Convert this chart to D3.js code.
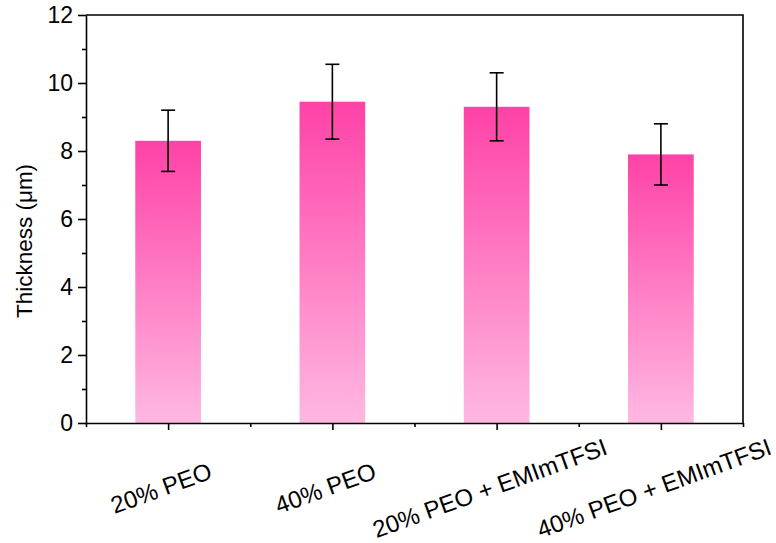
<!DOCTYPE html>
<html>
<head>
<meta charset="utf-8">
<script src="https://cdn.jsdelivr.net/npm/d3@7"></script>
<style>
  body { margin: 0; background: #fff; }
  svg { display: block; }
  text { font-family: Arial, "Liberation Sans", sans-serif; fill: #000; }
</style>
</head>
<body>
<svg id="chart" width="776" height="543"></svg>
<script>
const categories = ["20% PEO", "40% PEO", "20% PEO + EMImTFSI", "40% PEO + EMImTFSI"];
const values = [8.3, 9.45, 9.3, 7.9];
const errors = [0.9, 1.1, 1.0, 0.9];
const yTicks = [0, 2, 4, 6, 8, 10, 12];
const yMinorTicks = [1, 3, 5, 7, 9, 11];

const svg = d3.select("#chart");
const mLeft = 86, mRight = 743, mTop = 15, mBottom = 423;

const x = d3.scaleLinear().domain([0.5, 4.5]).range([mLeft, mRight]);
const y = d3.scaleLinear().domain([0, 12]).range([mBottom, mTop]);
const barW = (x(2) - x(1)) * 0.4;

const defs = svg.append("defs");
const grad = defs.append("linearGradient")
  .attr("id", "pinkGrad").attr("x1", 0).attr("y1", 0).attr("x2", 0).attr("y2", 1);
grad.append("stop").attr("offset", "0%").attr("stop-color", "#ff42a7");
grad.append("stop").attr("offset", "100%").attr("stop-color", "#ffb8e2");

// Bars
svg.append("g").selectAll("rect").data(values).join("rect")
  .attr("x", (d, i) => x(i + 1) - barW / 2)
  .attr("y", d => y(d))
  .attr("width", barW)
  .attr("height", d => y(0) - y(d))
  .attr("fill", "url(#pinkGrad)");

// Error bars
const eb = svg.append("g").attr("stroke", "#000").attr("stroke-width", 1.6);
values.forEach((v, i) => {
  const cx = x(i + 1);
  eb.append("line").attr("x1", cx).attr("x2", cx).attr("y1", y(v + errors[i])).attr("y2", y(v - errors[i]));
  eb.append("line").attr("x1", cx - 7).attr("x2", cx + 7).attr("y1", y(v + errors[i])).attr("y2", y(v + errors[i]));
  eb.append("line").attr("x1", cx - 7).attr("x2", cx + 7).attr("y1", y(v - errors[i])).attr("y2", y(v - errors[i]));
});

// Frame (top and right)
svg.append("path")
  .attr("d", `M${mLeft},${mTop}H${mRight}V${mBottom}`)
  .attr("fill", "none").attr("stroke", "#000").attr("stroke-width", 1.6);

// Y axis
const yAxis = d3.axisLeft(y).tickValues(yTicks).tickSize(8).tickPadding(5).tickSizeOuter(0).tickFormat(d3.format("d"));
const gy = svg.append("g").attr("transform", `translate(${mLeft},0)`).call(yAxis);
gy.select(".domain").attr("stroke-width", 1.6);
gy.selectAll(".tick line").attr("stroke-width", 1.6);
gy.selectAll(".tick text").attr("font-size", 23).style("font-family", "Arial, 'Liberation Sans', sans-serif");
const yMinor = d3.axisLeft(y).tickValues(yMinorTicks).tickSize(4).tickFormat("").tickSizeOuter(0);
const gym = svg.append("g").attr("transform", `translate(${mLeft},0)`).call(yMinor);
gym.select(".domain").remove();
gym.selectAll(".tick line").attr("stroke-width", 1.6);

// X axis
const xAxis = d3.axisBottom(x).tickValues([1, 2, 3, 4]).tickSize(7).tickFormat("").tickSizeOuter(0);
const gx = svg.append("g").attr("transform", `translate(0,${mBottom})`).call(xAxis);
gx.select(".domain").attr("stroke-width", 1.6);
gx.selectAll(".tick line").attr("stroke-width", 1.6);
const xMinor = d3.axisBottom(x).tickValues([0.5, 1.5, 2.5, 3.5, 4.5]).tickSize(4).tickFormat("").tickSizeOuter(0);
const gxm = svg.append("g").attr("transform", `translate(0,${mBottom})`).call(xMinor);
gxm.select(".domain").remove();
gxm.selectAll(".tick line").attr("stroke-width", 1.6);

// X labels, rotated
svg.append("g").selectAll("text").data(categories).join("text")
  .attr("transform", (d, i) => `translate(${x(i + 1) - 4},${mBottom + 73}) rotate(-20)`)
  .attr("text-anchor", "middle")
  .attr("font-size", 24)
  .text(d => d);

// Y title
svg.append("text")
  .attr("transform", `translate(32,241) rotate(-90)`)
  .attr("text-anchor", "middle")
  .attr("font-size", 22.5)
  .text("Thickness (\u03bcm)");
</script>
</body>
</html>
